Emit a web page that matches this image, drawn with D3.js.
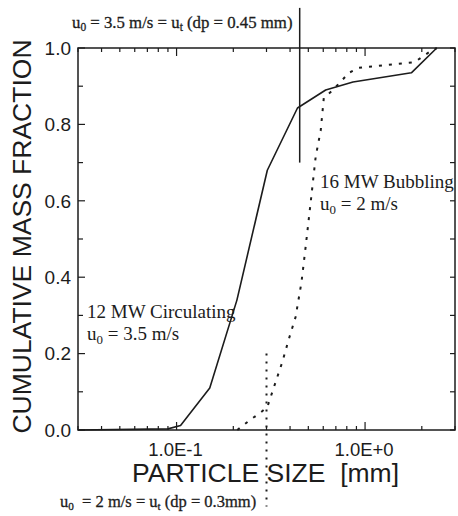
<!DOCTYPE html>
<html><head><meta charset="utf-8">
<script src="https://cdn.jsdelivr.net/npm/d3@7"></script>
<style>
html,body{margin:0;padding:0;background:#fff;}
svg{display:block;}
</style></head>
<body>
<script>
// ---- data ----
const circSize = [0.03, 0.09, 0.105, 0.15, 0.209, 0.303, 0.438, 0.618, 0.863, 1.76, 2.40];
const circFrac = [0, 0.003, 0.012, 0.11, 0.34, 0.68, 0.843, 0.89, 0.911, 0.935, 1.0];
const bubSize = [0.21, 0.245, 0.278, 0.303, 0.334, 0.364, 0.393, 0.428, 0.46, 0.483, 0.514, 0.547, 0.582, 0.604, 0.675, 0.821, 0.929, 1.83, 2.2, 2.4];
const bubFrac = [0, 0.026, 0.045, 0.06, 0.123, 0.178, 0.236, 0.296, 0.387, 0.476, 0.594, 0.715, 0.785, 0.869, 0.89, 0.935, 0.948, 0.963, 0.99, 1.0];
const yTickLabels = ["0.0","0.2","0.4","0.6","0.8","1.0"];
const yTickValues = [0, 0.2, 0.4, 0.6, 0.8, 1.0];
const xTickValues = [0.1, 1];
const xTickLabels = ["1.0E-1", "1.0E+0"];
const xMinor = [0.03,0.04,0.05,0.06,0.07,0.08,0.09,0.2,0.3,0.4,0.5,0.6,0.7,0.8,0.9,2,3];
const yMinor = [0.1,0.3,0.5,0.7,0.9];
const refCirc = {size: 0.45, from: 0.70, to: 1.105};
const refBub = {size: 0.3, from: 0.2, to: -0.2};

const W = 458, H = 516;
const m = {left: 78, top: 48, right: 3, bottom: 86};
const ink = "#1c1c1c";
const sans = "'Liberation Sans', Arial, sans-serif";
const serif = "'Liberation Serif', 'Times New Roman', serif";

const svg = d3.select("body").append("svg").attr("width", W).attr("height", H);
const x = d3.scaleLog().domain([0.03, 3]).range([m.left, W - m.right]);
const y = d3.scaleLinear().domain([0, 1]).range([H - m.bottom, m.top]);
const x0 = x.range()[0], x1 = x.range()[1], y0 = y.range()[0], y1 = y.range()[1];

// frame
svg.append("rect").attr("x", x0).attr("y", y1).attr("width", x1 - x0).attr("height", y0 - y1)
  .attr("fill", "none").attr("stroke", ink).attr("stroke-width", 1.5);

// x ticks bottom & top
const g = svg.append("g").attr("stroke", ink).attr("stroke-width", 1.2);
xMinor.forEach(v => {
  g.append("line").attr("x1", x(v)).attr("x2", x(v)).attr("y1", y0).attr("y2", y0 - 4);
  g.append("line").attr("x1", x(v)).attr("x2", x(v)).attr("y1", y1).attr("y2", y1 + 4);
});
xTickValues.forEach(v => {
  g.append("line").attr("x1", x(v)).attr("x2", x(v)).attr("y1", y0).attr("y2", y0 - 8);
  g.append("line").attr("x1", x(v)).attr("x2", x(v)).attr("y1", y1).attr("y2", y1 + 8);
});
// y ticks left & right
yTickValues.forEach(v => {
  g.append("line").attr("x1", x0).attr("x2", x0 + 7).attr("y1", y(v)).attr("y2", y(v));
  g.append("line").attr("x1", x1).attr("x2", x1 - 5).attr("y1", y(v)).attr("y2", y(v));
});
yMinor.forEach(v => {
  g.append("line").attr("x1", x0).attr("x2", x0 + 5).attr("y1", y(v)).attr("y2", y(v));
  g.append("line").attr("x1", x1).attr("x2", x1 - 5).attr("y1", y(v)).attr("y2", y(v));
});

// tick labels
yTickValues.forEach((v, i) => {
  svg.append("text").attr("x", 71).attr("y", y(v)).attr("dy", "0.36em")
    .attr("text-anchor", "end").attr("font-family", sans).attr("font-size", 19)
    .attr("fill", ink).text(yTickLabels[i]);
});
xTickValues.forEach((v, i) => {
  svg.append("text").attr("x", x(v) - 1).attr("y", 456)
    .attr("text-anchor", "middle").attr("font-family", sans).attr("font-size", 18.5)
    .attr("fill", ink).text(xTickLabels[i]);
});

// axis titles
svg.append("text").attr("transform", `translate(31,${(38 + 435) / 2}) rotate(-90)`)
  .attr("text-anchor", "middle").attr("font-family", sans).attr("font-size", 26.5)
  .attr("fill", ink).text("CUMULATIVE MASS FRACTION");
svg.append("text").attr("x", 132).attr("y", 482)
  .attr("font-family", sans).attr("font-size", 26.5).attr("fill", ink)
  .attr("xml:space", "preserve").style("white-space", "pre").text("PARTICLE SIZE  [mm]");

// reference lines
svg.append("line").attr("x1", x(refCirc.size)).attr("x2", x(refCirc.size))
  .attr("y1", y(refCirc.from)).attr("y2", y(refCirc.to))
  .attr("stroke", ink).attr("stroke-width", 1.5);
svg.append("line").attr("x1", x(refBub.size)).attr("x2", x(refBub.size))
  .attr("y1", y(refBub.from)).attr("y2", y(refBub.to))
  .attr("stroke", ink).attr("stroke-width", 2).attr("stroke-dasharray", "2,6");

// curves
const line = d3.line().x(d => x(d[0])).y(d => y(d[1]));
svg.append("path").datum(circSize.map((s, i) => [s, circFrac[i]]))
  .attr("d", line).attr("fill", "none").attr("stroke", ink).attr("stroke-width", 1.6)
  .attr("stroke-linejoin", "round");
svg.append("path").datum(bubSize.map((s, i) => [s, bubFrac[i]]))
  .attr("d", line).attr("fill", "none").attr("stroke", ink).attr("stroke-width", 2)
  .attr("stroke-dasharray", "3,7");

// annotations with subscripts
function note(px, py, parts, size, heavy) {
  const t = svg.append("text").attr("x", px).attr("y", py)
    .attr("font-family", serif).attr("font-size", size).attr("fill", ink)
    .attr("xml:space", "preserve").style("white-space", "pre");
  if (heavy) t.attr("stroke", ink).attr("stroke-width", 0.3);
  let pending = 0;
  const shift = size * 0.2;
  parts.forEach(p => {
    if (typeof p === "string") {
      const s = t.append("tspan").text(p);
      if (pending) { s.attr("dy", pending); pending = 0; }
    } else {
      t.append("tspan").attr("font-size", size * 0.68).attr("dy", shift + pending).text(p.sub);
      pending = -shift;
    }
  });
  return t;
}
note(72, 28, ["u", {sub: "0"}, " = 3.5 m/s = u", {sub: "t"}, " (dp = 0.45 mm)"], 16.8, true);
note(60, 507, ["u", {sub: "0"}, "  = 2 m/s = u", {sub: "t"}, " (dp = 0.3mm)"], 16.5, true);
note(87, 318, ["12 MW Circulating"], 19);
note(87, 340, ["u", {sub: "0"}, " = 3.5 m/s"], 19);
note(320, 188, ["16 MW Bubbling"], 19);
note(320, 210, ["u", {sub: "0"}, " = 2 m/s"], 19);
</script>
</body></html>
